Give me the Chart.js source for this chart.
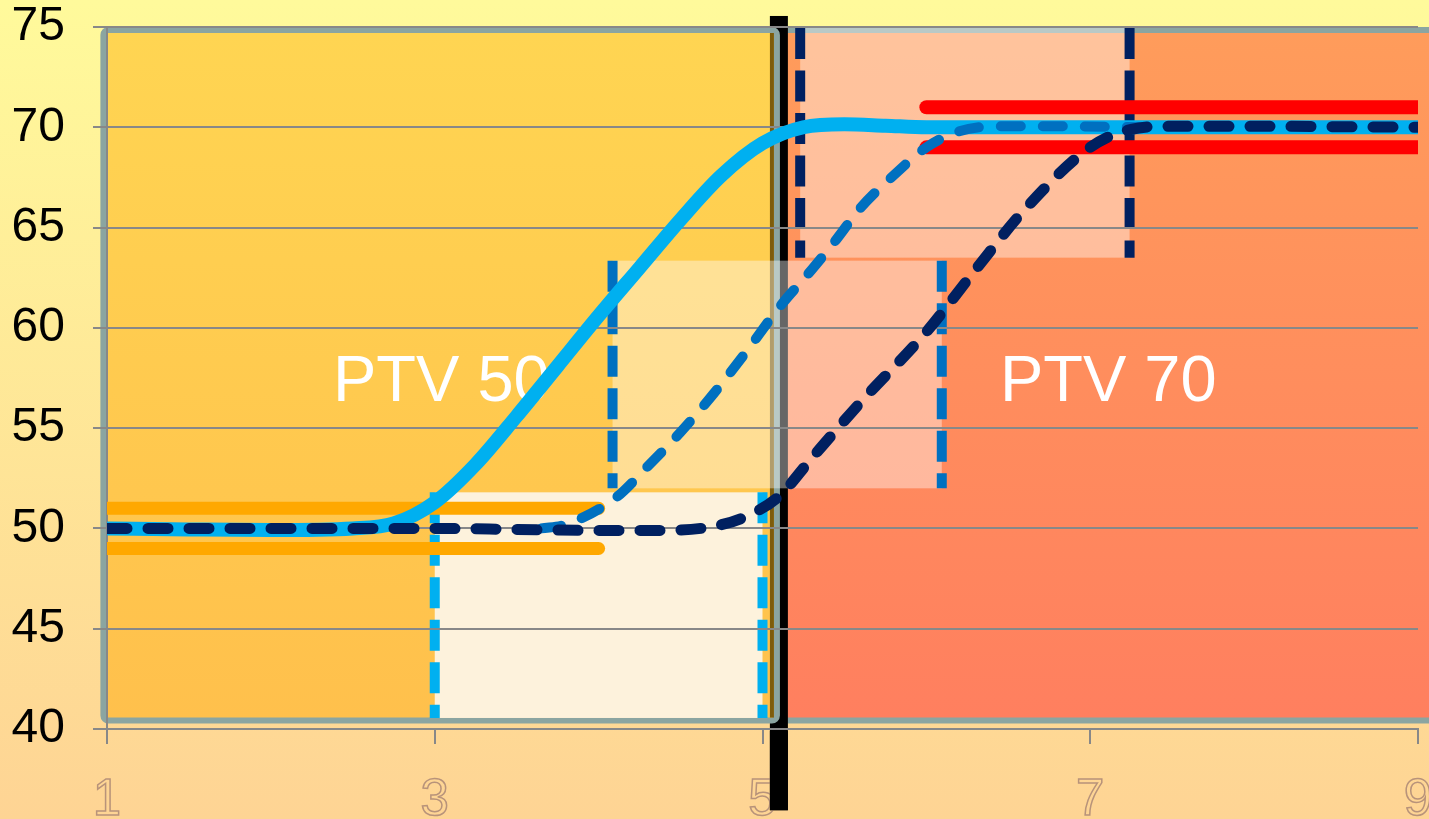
<!DOCTYPE html>
<html>
<head>
<meta charset="utf-8">
<script src="https://cdn.jsdelivr.net/npm/chart.js@4.4.1/dist/chart.umd.min.js"></script>
<style>
  html, body { margin: 0; padding: 0; overflow: hidden; }
  body { width: 1429px; height: 819px; background: linear-gradient(#fffa9b, #fed494); }
  canvas { display: block; }
</style>
</head>
<body>
<canvas id="chart" width="1429" height="819"></canvas>
<script>
// --- Data ---
const solidX = [1, 1.5, 2, 2.5, 2.75, 3.0, 3.25, 3.5, 3.75, 4.0, 4.25, 4.5, 4.75, 5.0, 5.25, 5.5, 5.75, 6.0, 6.5, 7, 8, 9];
const solidY = [50, 49.95, 49.92, 50.0, 50.25, 51.3, 53.2, 55.6, 58.1, 60.6, 63.0, 65.4, 67.6, 69.2, 70.0, 70.15, 70.08, 70.0, 70.0, 70, 70, 70];

const midDashX = [3.65, 3.8, 4.1, 4.3, 4.5, 4.7, 4.9, 5.1, 5.3, 5.45, 5.6, 5.8, 6.0, 6.2, 6.45, 6.8, 7.3];
const midDashY = [50.0, 50.2, 51.5, 53.1, 54.8, 56.7, 58.8, 61.0, 62.9, 64.4, 66.0, 67.6, 69.0, 69.8, 70.05, 70.05, 70.0];

const darkDashX = [1, 2, 3, 3.5, 4, 4.4, 4.7, 4.9, 5.1, 5.3, 5.6, 6.0, 6.3, 6.6, 7.0, 7.25, 7.5, 8, 9];
const darkDashY = [50, 50, 50, 49.95, 49.9, 49.9, 50.1, 50.6, 51.6, 53.5, 56.3, 59.8, 62.9, 65.9, 69.0, 69.9, 70.05, 70.05, 70];

const lowBandX = [1, 4];
const lowBandUpper = [51, 51];
const lowBandLower = [49, 49];
const highBandX = [6, 9];
const highBandUpper = [71, 71];
const highBandLower = [69, 69];

const zoneLabels = ['PTV 50', 'PTV 70'];
const zoneLabelX = [3.04, 7.11];
const zoneLabelY = 56.35;

// zones and boxes: [xFrom, xTo, yFrom, yTo]
const zone50 = [0.978, 5.088, 40.42, 74.85];
const zone70 = [5.1, 9.3, 40.42, 74.85];
const creamBox = [3, 5, 40.55, 51.8];
const midBox = [4.085, 6.094, 52.0, 63.35];
const highBox = [5.23, 7.24, 63.5, 74.95];
const dividerX = 5.1;
const dividerY = [35.95, 75.55];

const pts = (xs, ys) => xs.map((x, i) => ({ x, y: ys[i] }));

const zonePainter = {
    id: 'zonePainter',
    beforeDraw(chart) {
        const { ctx, scales: { x, y } } = chart;
        const px = v => x.getPixelForValue(v);
        const py = v => y.getPixelForValue(v);
        ctx.save();

        const zone = (b, top, bottom) => {
            const x0 = px(b[0]), x1 = px(b[1]), y0 = py(b[3]), y1 = py(b[2]);
            const g = ctx.createLinearGradient(0, y0, 0, y1);
            g.addColorStop(0, top);
            g.addColorStop(1, bottom);
            ctx.beginPath();
            ctx.roundRect(x0, y0, x1 - x0, y1 - y0, 5);
            ctx.fillStyle = g;
            ctx.fill();
            ctx.lineWidth = 6;
            ctx.strokeStyle = '#8ba5a1';
            ctx.stroke();
            return [x0, x1, y0, y1];
        };
        zone(zone70, '#ff9c5b', '#ff7f5f');

        // black divider
        ctx.fillStyle = '#000';
        ctx.fillRect(px(dividerX) - 9, py(dividerY[1]), 18, py(dividerY[0]) - py(dividerY[1]));

        const z50 = zone(zone50, '#ffd552', '#ffc04c');
        ctx.fillStyle = '#7d5c0c';
        ctx.fillRect(z50[1] - 7, z50[2] + 3, 4, z50[3] - z50[2] - 6);

        const vdash = (xv, b, color) => {
            ctx.beginPath();
            ctx.setLineDash([31, 11.5]);
            ctx.lineCap = 'butt';
            ctx.lineWidth = 10;
            ctx.strokeStyle = color;
            ctx.moveTo(px(xv), py(b[3]));
            ctx.lineTo(px(xv), py(b[2]));
            ctx.stroke();
            ctx.setLineDash([]);
        };
        const box = (b, fill, lineColor) => {
            ctx.fillStyle = fill;
            ctx.fillRect(px(b[0]), py(b[3]), px(b[1]) - px(b[0]), py(b[2]) - py(b[3]));
            vdash(b[0], b, lineColor);
            vdash(b[1], b, lineColor);
        };
        box(creamBox, '#fdf2dc', '#00b0f0');
        box(midBox, 'rgba(255,255,255,0.4)', '#0070c0');
        box(highBox, 'rgba(255,255,255,0.4)', '#002060');
        ctx.restore();
    },
    beforeDatasetsDraw(chart) {
        const { ctx, scales: { x, y } } = chart;
        ctx.save();
        ctx.fillStyle = '#ffffff';
        ctx.font = '65px "Liberation Sans", Arial, sans-serif';
        ctx.textAlign = 'center';
        ctx.textBaseline = 'alphabetic';
        zoneLabels.forEach((t, i) => {
            ctx.fillText(t, x.getPixelForValue(zoneLabelX[i]), y.getPixelForValue(zoneLabelY));
        });
        ctx.restore();
    },
    afterDraw(chart) {
        // the divider runs over the bottom tick labels
        const { ctx, scales: { x, y } } = chart;
        const top = y.getPixelForValue(40) + 2;
        ctx.save();
        ctx.fillStyle = '#000';
        ctx.fillRect(x.getPixelForValue(dividerX) - 9, top, 18, y.getPixelForValue(dividerY[0]) - top);
        ctx.restore();
    }
};

const lineStyle = { pointRadius: 0, fill: false, borderJoinStyle: 'round', cubicInterpolationMode: 'monotone' };

new Chart(document.getElementById('chart').getContext('2d'), {
    type: 'line',
    data: {
        datasets: [
            { ...lineStyle, label: 'dark', data: pts(darkDashX, darkDashY), borderColor: '#002060', borderWidth: 11, borderDash: [20, 21], borderCapStyle: 'round' },
            { ...lineStyle, label: 'mid', data: pts(midDashX, midDashY), borderColor: '#0070c0', borderWidth: 10, borderDash: [20, 22], borderCapStyle: 'round' },
            { ...lineStyle, label: 'solid', data: pts(solidX, solidY), borderColor: '#00b0f0', borderWidth: 14, borderCapStyle: 'round' },
            { ...lineStyle, label: 'red hi', data: pts(highBandX, highBandUpper), borderColor: '#ff0000', borderWidth: 14, borderCapStyle: 'round' },
            { ...lineStyle, label: 'red lo', data: pts(highBandX, highBandLower), borderColor: '#ff0000', borderWidth: 14, borderCapStyle: 'round' },
            { ...lineStyle, label: 'orange hi', data: pts(lowBandX, lowBandUpper), borderColor: '#ffa800', borderWidth: 13, borderCapStyle: 'round' },
            { ...lineStyle, label: 'orange lo', data: pts(lowBandX, lowBandLower), borderColor: '#ffa800', borderWidth: 13, borderCapStyle: 'round' }
        ]
    },
    options: {
        responsive: false,
        animation: false,
        devicePixelRatio: 1,
        layout: { padding: { top: 27, right: 11, left: 0, bottom: 0 } },
        plugins: { legend: { display: false }, tooltip: { enabled: false } },
        scales: {
            x: {
                type: 'linear',
                min: 1,
                max: 9,
                ticks: {
                    stepSize: 2,
                    color: 'rgba(0,0,0,0)',
                    textStrokeColor: '#b8937a',
                    textStrokeWidth: 1.5,
                    font: { family: '"Liberation Sans", Arial, sans-serif', size: 51 },
                    padding: 26,
                    maxRotation: 0
                },
                grid: { drawOnChartArea: false, color: '#888888', lineWidth: 2, tickLength: 15 },
                border: { color: '#888888', width: 2 },
                afterFit: s => { s.height = 90; s.paddingLeft = 0; s.paddingRight = 0; }
            },
            y: {
                min: 40,
                max: 75,
                ticks: {
                    stepSize: 5,
                    color: '#000000',
                    font: { family: '"Liberation Sans", Arial, sans-serif', size: 48 },
                    padding: 28
                },
                grid: { color: '#888888', lineWidth: 2, tickLength: 14 },
                border: { color: '#888888', width: 2 },
                afterFit: s => { s.width = 107; s.paddingTop = 0; s.paddingBottom = 0; }
            }
        }
    },
    plugins: [zonePainter]
});
</script>
</body>
</html>
